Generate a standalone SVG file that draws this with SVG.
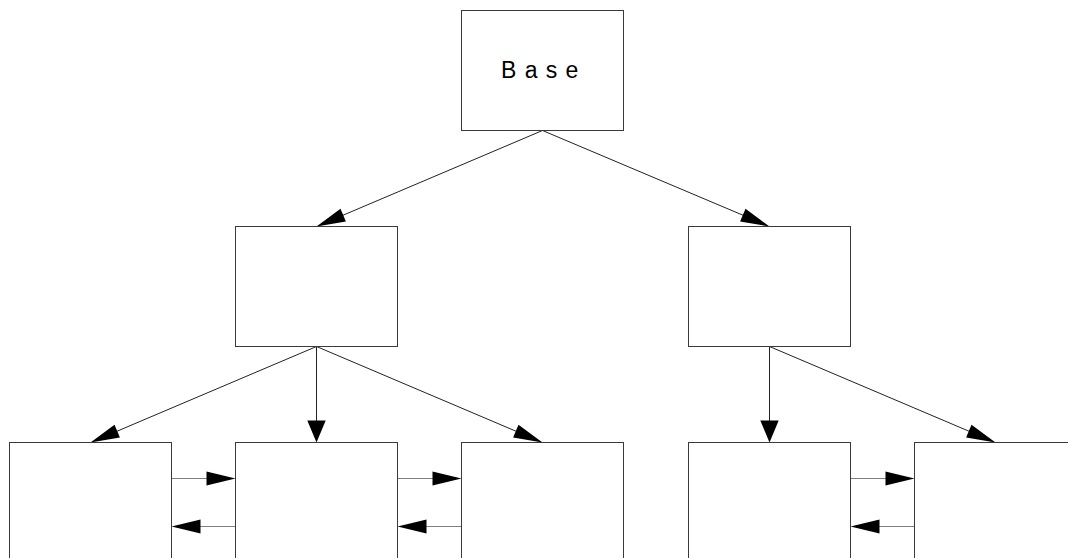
<svg xmlns="http://www.w3.org/2000/svg" width="1068" height="558" viewBox="0 0 1068 558">
<style>
.box{fill:#fff;stroke:#3a3a3a;stroke-width:1}
.ln{stroke:#222;stroke-width:1;fill:none}
.hl{stroke:#808080;stroke-width:1;fill:none}
.hd{fill:#000;stroke:none}
.lbl{font-family:"Liberation Sans",Arial,sans-serif;font-size:23px;fill:#000}
</style>
<rect width="1068" height="558" fill="#fff"/>
<g id="connectors">
<line class="ln" x1="542.5" y1="130.5" x2="340" y2="216.5"/>
<polygon class="hd" points="316.5,226.5 345.9,221.6 340.5,208.7"/>
<line class="ln" x1="542.5" y1="130.5" x2="746" y2="216.5"/>
<polygon class="hd" points="769.5,226.5 740.1,221.6 745.5,208.7"/>
<line class="ln" x1="316.5" y1="346.5" x2="114" y2="432.5"/>
<polygon class="hd" points="90.5,442.5 119.9,437.6 114.5,424.7"/>
<line class="ln" x1="316.5" y1="346.5" x2="316.5" y2="421"/>
<polygon class="hd" points="316.5,442.5 307.3,420.5 325.7,420.5"/>
<line class="ln" x1="316.5" y1="346.5" x2="519" y2="432.5"/>
<polygon class="hd" points="542.5,442.5 513.1,437.6 518.5,424.7"/>
<line class="ln" x1="769.5" y1="346.5" x2="769.5" y2="421"/>
<polygon class="hd" points="769.5,442.5 760.3,420.5 778.7,420.5"/>
<line class="ln" x1="769.5" y1="346.5" x2="972" y2="432.5"/>
<polygon class="hd" points="995.5,442.5 966.1,437.6 971.5,424.7"/>
<line class="hl" x1="171.5" y1="478.5" x2="207" y2="478.5"/>
<polygon class="hd" points="235.5,478.5 206.5,471.5 206.5,485.5"/>
<line class="hl" x1="235.5" y1="526.5" x2="200" y2="526.5"/>
<polygon class="hd" points="171.5,526.5 200.5,519.5 200.5,533.5"/>
<line class="hl" x1="397.5" y1="478.5" x2="433" y2="478.5"/>
<polygon class="hd" points="461.5,478.5 432.5,471.5 432.5,485.5"/>
<line class="hl" x1="461.5" y1="526.5" x2="426" y2="526.5"/>
<polygon class="hd" points="397.5,526.5 426.5,519.5 426.5,533.5"/>
<line class="hl" x1="850.5" y1="478.5" x2="886" y2="478.5"/>
<polygon class="hd" points="914.5,478.5 885.5,471.5 885.5,485.5"/>
<line class="hl" x1="914.5" y1="526.5" x2="879" y2="526.5"/>
<polygon class="hd" points="850.5,526.5 879.5,519.5 879.5,533.5"/>
</g>
<g id="base">
<rect class="box" x="461.5" y="10.5" width="162" height="120"/>
<text class="lbl" x="501" y="78" letter-spacing="8.3">Base</text>
</g>
<g id="mid-left"><rect class="box" x="235.5" y="226.5" width="162" height="120"/></g>
<g id="mid-right"><rect class="box" x="688.5" y="226.5" width="162" height="120"/></g>
<g id="bottom-1"><rect class="box" x="9.5" y="442.5" width="162" height="120"/></g>
<g id="bottom-2"><rect class="box" x="235.5" y="442.5" width="162" height="120"/></g>
<g id="bottom-3"><rect class="box" x="461.5" y="442.5" width="162" height="120"/></g>
<g id="bottom-4"><rect class="box" x="688.5" y="442.5" width="162" height="120"/></g>
<g id="bottom-5"><rect class="box" x="914.5" y="442.5" width="162" height="120"/></g>
</svg>
